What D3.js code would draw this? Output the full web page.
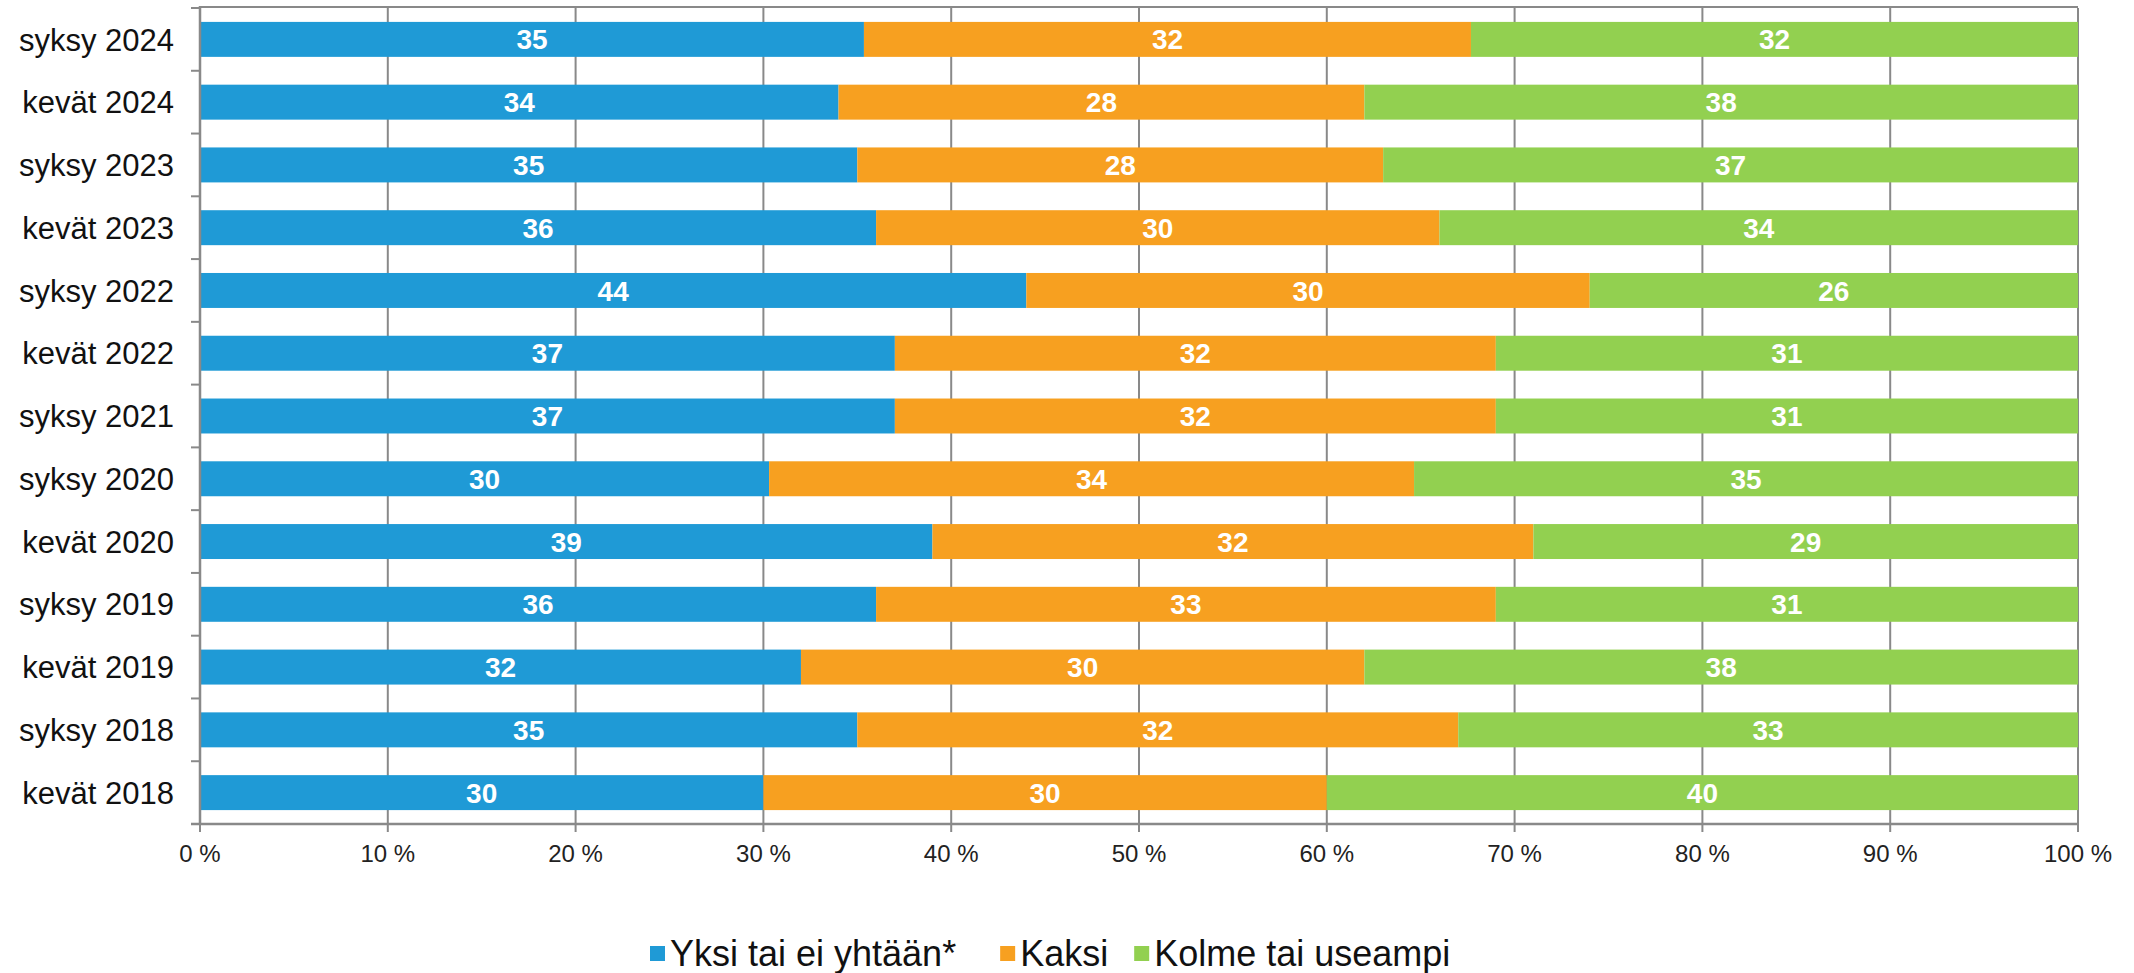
<!DOCTYPE html>
<html>
<head>
<meta charset="utf-8">
<script src="https://cdn.jsdelivr.net/npm/d3@7/dist/d3.min.js"></script>
<style>
  html, body { margin: 0; padding: 0; background: #fff; }
  svg { display: block; }
  text { font-family: "Liberation Sans", Arial, sans-serif; }
</style>
</head>
<body>
<svg id="chart" width="2134" height="973"></svg>
<script>
const categories = ["syksy 2024","kevät 2024","syksy 2023","kevät 2023","syksy 2022","kevät 2022","syksy 2021","syksy 2020","kevät 2020","syksy 2019","kevät 2019","syksy 2018","kevät 2018"];
const seriesNames = ["Yksi tai ei yhtään*", "Kaksi", "Kolme tai useampi"];
const yksi  = [35,34,35,36,44,37,37,30,39,36,32,35,30];
const kaksi = [32,28,28,30,30,32,32,34,32,33,30,32,30];
const kolme = [32,38,37,34,26,31,31,35,29,31,38,33,40];
const xTicks = [0,0.1,0.2,0.3,0.4,0.5,0.6,0.7,0.8,0.9,1];
const xTickLabels = ["0 %","10 %","20 %","30 %","40 %","50 %","60 %","70 %","80 %","90 %","100 %"];
const colors = ["#1F9AD6", "#F7A020", "#92D050"];

const svg = d3.select("#chart");
const L = 200, R = 2078, T = 8, B = 824;
const gridColor = "#898989";

const rows = categories.map((c, i) => ({cat: c, s0: yksi[i], s1: kaksi[i], s2: kolme[i]}));
const keys = ["s0","s1","s2"];
const stack = d3.stack().keys(keys).offset(d3.stackOffsetExpand);
const stacked = stack(rows);

const x = d3.scaleLinear().domain([0,1]).range([L, R]);
const y = d3.scaleBand().domain(categories).range([T, B]).paddingInner(0.443).paddingOuter(0.2215);

// gridlines
svg.append("g").selectAll("line").data(xTicks.slice(1)).join("line")
  .attr("x1", d => x(d)).attr("x2", d => x(d))
  .attr("y1", T).attr("y2", B)
  .attr("stroke", gridColor).attr("stroke-width", 2);
// top border
svg.append("line").attr("x1", L).attr("x2", R).attr("y1", T - 1).attr("y2", T - 1)
  .attr("stroke", gridColor).attr("stroke-width", 2);

// bars
const g = svg.append("g");
stacked.forEach((layer, li) => {
  g.append("g").attr("fill", colors[li]).selectAll("rect").data(layer).join("rect")
    .attr("x", d => x(d[0]))
    .attr("width", d => x(d[1]) - x(d[0]))
    .attr("y", d => y(d.data.cat))
    .attr("height", y.bandwidth());
});

// value labels
stacked.forEach((layer, li) => {
  g.append("g").selectAll("text").data(layer).join("text")
    .attr("x", d => (x(d[0]) + x(d[1])) / 2)
    .attr("y", d => y(d.data.cat) + y.bandwidth() / 2)
    .attr("dy", "0.36em")
    .attr("text-anchor", "middle")
    .attr("fill", "#fff")
    .attr("font-weight", "bold")
    .attr("font-size", 28)
    .text(d => d.data[keys[li]]);
});

// axes lines
svg.append("line").attr("x1", L).attr("x2", L).attr("y1", T - 2).attr("y2", B + 1)
  .attr("stroke", gridColor).attr("stroke-width", 2.5);
svg.append("line").attr("x1", L - 9).attr("x2", R + 1).attr("y1", B).attr("y2", B)
  .attr("stroke", gridColor).attr("stroke-width", 2.5);

// category ticks at band boundaries
const boundaries = categories.map(c => y(c) - y.step() * y.paddingInner() / 2).concat([B]);
svg.append("g").selectAll("line").data(boundaries).join("line")
  .attr("x1", L - 9).attr("x2", L).attr("y1", d => d).attr("y2", d => d)
  .attr("stroke", gridColor).attr("stroke-width", 2);

// x ticks
svg.append("g").selectAll("line").data(xTicks).join("line")
  .attr("x1", d => x(d)).attr("x2", d => x(d)).attr("y1", B).attr("y2", B + 8)
  .attr("stroke", gridColor).attr("stroke-width", 2);
svg.append("g").selectAll("text").data(xTicks).join("text")
  .attr("x", d => x(d)).attr("y", 862)
  .attr("text-anchor", "middle").attr("font-size", 24).attr("fill", "#222")
  .text((d, i) => xTickLabels[i]);

// category labels
svg.append("g").selectAll("text").data(categories).join("text")
  .attr("x", 174).attr("y", d => y(d) + y.bandwidth() / 2)
  .attr("dy", "0.36em")
  .attr("text-anchor", "end").attr("font-size", 31).attr("fill", "#111")
  .text(d => d);

// legend
const lg = svg.append("g");
const gaps = [44, 26];
let lx = 650;
seriesNames.forEach((name, i) => {
  lg.append("rect").attr("x", lx).attr("y", 946).attr("width", 15).attr("height", 15)
    .attr("fill", colors[i]);
  const t = lg.append("text").attr("x", lx + 20).attr("y", 966)
    .attr("font-size", 36).attr("fill", "#111").text(name);
  const w = t.node().getComputedTextLength();
  lx = lx + 20 + w + (gaps[i] || 0);
});
</script>
</body>
</html>
